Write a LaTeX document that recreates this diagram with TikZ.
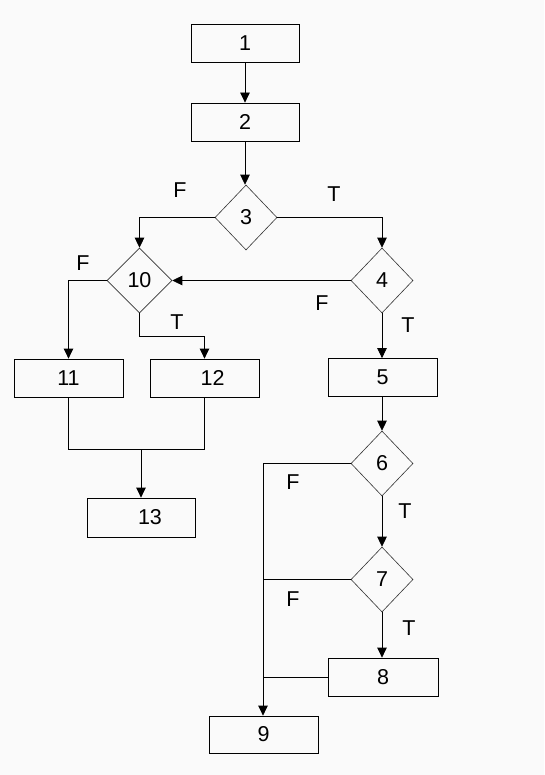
\documentclass[tikz,border=0pt]{standalone}
\usepackage{fontspec}
\setmainfont{Liberation Sans}
\usetikzlibrary{arrows.meta,shapes.geometric}
\definecolor{bgc}{RGB}{250,250,250}
\begin{document}
\begin{tikzpicture}[x=1pt,y=-1pt,
  every node/.style={font=\fontsize{21.5}{25}\selectfont},
  box/.style={draw,line width=0.8pt,minimum width=108pt,minimum height=38pt,inner sep=0pt},
  dia/.style={draw,diamond,line width=0.6pt,draw=black!80,minimum width=62pt,minimum height=65pt,inner sep=0pt,aspect=1},
  conn/.style={line width=0.8pt},
  arr/.style={conn,-{Triangle[length=10pt,width=9.5pt]}},
  lbl/.style={inner sep=0pt}]
\fill[bgc] (0,0) rectangle (544,775);
\useasboundingbox (0,0) rectangle (544,775);
% nodes
\node[box] (n1) at (245,43.5) {1};
\node[box] (n2) at (245,122) {2};
\node[dia] (d3) at (246,217.5) {3};
\node[dia,minimum width=65pt] (d10) at (139.5,280.5) {10};
\node[dia] (d4) at (382,280.5) {4};
\node[box,minimum width=109pt] (n11) at (68.5,378) {11};
\node[box,minimum width=109pt] (n12) at (204.5,378) {\hspace*{16pt}12};
\node[box,minimum width=109pt] (n5) at (382.5,377.5) {5};
\node[dia] (d6) at (382,463.5) {6};
\node[box,minimum height=39pt] (n13) at (141,517.5) {\hspace*{18pt}13};
\node[dia] (d7) at (382,579.5) {7};
\node[box,minimum width=110pt] (n8) at (383,677) {8};
\node[box,minimum width=109pt,minimum height=37pt] (n9) at (263.5,734.5) {9};
% labels
\node[lbl] (f3) at (180,190) {F};
\node[lbl] (t3) at (334,194) {T};
\node[lbl] (f4) at (322,303) {F};
\node[lbl] (t4) at (408,325) {T};
\node[lbl] (f10) at (83,263) {F};
\node[lbl] (t10) at (177,322) {T};
\node[lbl] (f6) at (293,482) {F};
\node[lbl] (t6) at (405,511) {T};
\node[lbl] (f7) at (293,599) {F};
\node[lbl] (t7) at (409,628) {T};
% coordinates
\coordinate (k1) at (139.5,336);
\coordinate (m) at (141,449);
\coordinate (c6) at (263,463.5);
% connectors
\draw[arr] (n1.south) -- (n2.north);
\draw[arr] (n2.south) -- (n2.south |- d3.north);
\draw[arr] (d3.west) -| (d10.north);
\draw[arr] (d3.east) -| (d4.north);
\draw[arr] (d4.west) -- (d10.east);
\draw[arr] (d4.south) -- (d4.south |- n5.north);
\draw[arr] (d10.west) -| (n11.north);
\draw[arr] (d10.south) -- (k1) -| (n12.north);
\draw[conn] (n11.south) |- (m);
\draw[conn] (n12.south) |- (m);
\draw[arr] (m) -- (n13.north);
\draw[arr] (n5.south -| d6.north) -- (d6.north);
\draw[conn] (d6.west) -- (c6);
\draw[arr] (c6) -- (c6 |- n9.north);
\draw[arr] (d6.south) -- (d7.north);
\draw[conn] (d7.west) -- (c6 |- d7.west);
\draw[arr] (d7.south) -- (d7.south |- n8.north);
\draw[conn] (n8.west) -- (c6 |- n8.west);
\end{tikzpicture}
\end{document}
